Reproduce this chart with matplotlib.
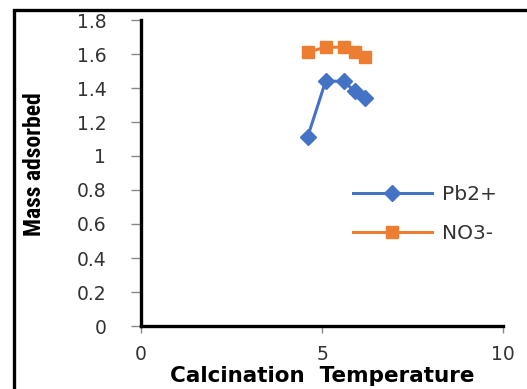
import matplotlib
matplotlib.use("Agg")
import matplotlib.pyplot as plt
from matplotlib.patches import Rectangle

# adsorption vs calcination temperature
temperature = [4.6, 5.1, 5.6, 5.9, 6.2]
pb_mass = [1.11, 1.44, 1.44, 1.38, 1.34]
no3_mass = [1.61, 1.64, 1.64, 1.61, 1.58]
series_labels = ["Pb2+", "NO3-"]

blue = "#4472C4"
orange = "#ED7D31"

fig = plt.figure(figsize=(5.27, 3.89), dpi=100)
ax = fig.add_axes([141 / 527, 1 - 326 / 389, 362 / 527, 306 / 389])

ax.plot(temperature, pb_mass, color=blue, lw=2.2, marker="D", ms=8,
        label=series_labels[0])
ax.plot(temperature, no3_mass, color=orange, lw=2.2, marker="s", ms=8.5,
        label=series_labels[1])

ax.set_xlim(0, 10)
ax.set_ylim(0, 1.8)
ax.set_xticks([0, 5, 10])
ax.set_yticks([0, 0.2, 0.4, 0.6, 0.8, 1, 1.2, 1.4, 1.6, 1.8])
ax.set_yticklabels(["0", "0.2", "0.4", "0.6", "0.8", "1", "1.2", "1.4", "1.6", "1.8"])

for side in ["top", "right"]:
    ax.spines[side].set_visible(False)
for side in ["left", "bottom"]:
    ax.spines[side].set_linewidth(2.4)
    ax.spines[side].set_color("black")

ax.tick_params(axis="y", direction="out", length=7, width=1, color="#888888",
               pad=18, labelsize=13.5, labelcolor="#333333")
ax.tick_params(axis="x", direction="out", length=5, width=1, color="#888888",
               pad=9, labelsize=13.5, labelcolor="#333333")

ax.set_ylabel("Mass adsorbed", fontsize=17, fontweight="bold",
              fontstretch="condensed",
              family=["Roboto Condensed", "Liberation Sans Narrow", "DejaVu Sans"])
ax.yaxis.set_label_coords(-0.262, 0.529)
ax.set_xlabel("Calcination  Temperature", fontsize=15.5, fontweight="bold")
ax.xaxis.set_label_coords(0.5, -0.13)

leg = ax.legend(loc="center left", bbox_to_anchor=(353 / 527, 1 - 214 / 389),
                bbox_transform=fig.transFigure, frameon=False, fontsize=14.5,
                handlelength=3.9, handletextpad=0.5, labelspacing=1.0,
                borderpad=0, borderaxespad=0)
for t in leg.get_texts():
    t.set_color("#333333")

# outer frame around the chart area
fig.patches.append(Rectangle((13.5 / 527, -0.1), 1.2, 1 - 10 / 389 + 0.1,
                             transform=fig.transFigure, fill=False,
                             edgecolor="black", lw=2.4))

fig.savefig("out.png", dpi=100)
